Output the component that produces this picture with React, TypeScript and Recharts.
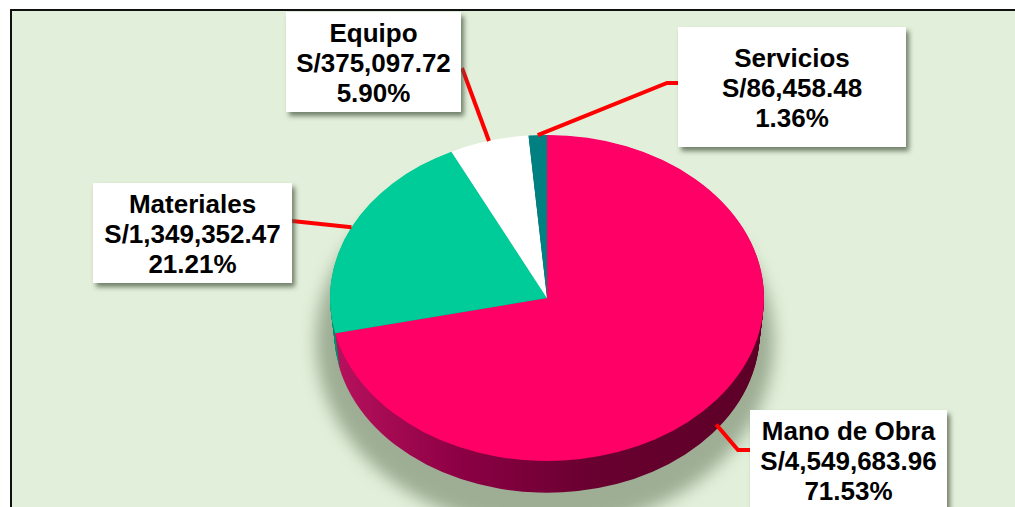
import React from 'react';
import { PieChart, Pie, Cell } from 'recharts';

// ---- data ----
const categories = ['Mano de Obra', 'Materiales', 'Equipo', 'Servicios'];
const amounts = [4549683.96, 1349352.47, 375097.72, 86458.48];
const topColors = ['#FF0066', '#00CC99', '#FFFFFF', '#008080'];
const sideColors = ['url(#pinkSide)', '#008F6B', '#C8C8C8', '#005A5A'];

const data = categories.map((name, i) => ({ name, value: amounts[i] }));

// ---- layout (screen px) ----
const W = 1015;
const H = 507;
const CX = 547;
const CY = 298;
const RX = 217;
const RY = 163;
const DEPTH = 35;
const BOTTOM_SHRINK = 0.02;
const K = RY / RX;
const STEP = 1.5;
const CHART_H = 720;
const layerOffsets: number[] = [];
for (let off = DEPTH; off > 0; off -= STEP) layerOffsets.push(off);

// label boxes [x, y, w, h] and leader path points (after the slice anchor)
const labelLayout = [
  { box: [750, 410, 197, 100], path: [[738, 450], [750, 450]] },
  { box: [93, 183, 199, 100], path: [[292, 221]] },
  { box: [286, 12, 175, 100], path: [[462, 68]] },
  { box: [678, 27, 228, 120], path: [[667, 83], [678, 83]] },
];

const fmt = (v: number) =>
  'S/' + v.toLocaleString('en-US', { minimumFractionDigits: 2, maximumFractionDigits: 2 });

const renderLabel = (props: any) => {
  const { cx, cy, midAngle, outerRadius, index, name, value, percent } = props;
  const L = labelLayout[index];
  const rad = (Math.PI / 180) * midAngle;
  const s = Math.sin(rad);
  const ax = cx + outerRadius * Math.cos(rad);
  let ay = cy - outerRadius * K * s;
  if (s < 0) ay += DEPTH * 0.7;
  const pts = [[ax, ay], ...L.path];
  const d = pts.map((p, i) => (i === 0 ? 'M' : 'L') + p[0] + ',' + p[1]).join(' ');
  const [bx, by, bw, bh] = L.box;
  const mx = bx + bw / 2;
  const my = by + bh / 2 + 1;
  const tp = {
    x: mx,
    textAnchor: 'middle' as const,
    fontSize: 26,
    fontWeight: 700,
    fontFamily: '"Liberation Sans", Arial, sans-serif',
    fill: '#000',
  };
  return (
    <g key={'lbl' + index}>
      <path d={d} stroke="#FF0000" strokeWidth={4} fill="none" strokeLinejoin="miter" />
      <rect x={bx} y={by} width={bw} height={bh} fill="#FFFFFF" filter="url(#boxShadow)" />
      <text {...tp} y={my - 30 + 9}>{name}</text>
      <text {...tp} y={my + 9}>{fmt(value)}</text>
      <text {...tp} y={my + 30 + 9}>{(percent * 100).toFixed(2) + '%'}</text>
    </g>
  );
};

export default function App() {
  return (
    <div
      style={{
        position: 'fixed',
        left: 0,
        top: 0,
        width: W,
        height: H,
        overflow: 'hidden',
        background: '#FFFFFF',
      }}
    >
      <div
        style={{
          position: 'absolute',
          left: 10,
          top: 9,
          width: 1040,
          height: 540,
          border: '2px solid #111',
          background: '#E2EFDA',
        }}
      />
      {/* soft shadow under pie */}
      <div
        style={{
          position: 'absolute',
          left: CX - RX - 14,
          top: CY - RY + 20,
          width: (RX + 12) * 2,
          height: (RY + 24) * 2,
          borderRadius: '50%',
          background: 'rgba(90,110,80,0.5)',
          filter: 'blur(8px)',
        }}
      />
      {/* pie body, squashed to an ellipse */}
      <div
        style={{
          position: 'absolute',
          left: 0,
          top: 0,
          width: W,
          height: CHART_H,
          transform: `scaleY(${K})`,
          transformOrigin: '0 0',
        }}
      >
        <PieChart width={W} height={CHART_H} margin={{ top: 0, right: 0, bottom: 0, left: 0 }}>
          <defs>
            <linearGradient id="pinkSide" gradientUnits="userSpaceOnUse" x1={CX - RX} y1="0" x2={CX + RX} y2="0">
              <stop offset="0" stopColor="#B8125E" />
              <stop offset="0.3" stopColor="#8C0044" />
              <stop offset="0.6" stopColor="#690030" />
              <stop offset="1" stopColor="#5C0026" />
            </linearGradient>
          </defs>
          {layerOffsets.map((off) => (
            <Pie
              key={'side' + off}
              data={data}
              dataKey="value"
              nameKey="name"
              cx={CX}
              cy={(CY + off) / K}
              outerRadius={RX * (1 - (BOTTOM_SHRINK * off) / DEPTH)}
              startAngle={90}
              endAngle={-270}
              stroke="none"
              isAnimationActive={false}
              labelLine={false}
            >
              {data.map((_, i) => (
                <Cell key={i} fill={sideColors[i]} stroke="none" />
              ))}
            </Pie>
          ))}
          <Pie
            data={data}
            dataKey="value"
            nameKey="name"
            cx={CX}
            cy={CY / K}
            outerRadius={RX}
            startAngle={90}
            endAngle={-270}
            stroke="none"
            isAnimationActive={false}
            labelLine={false}
          >
            {data.map((_, i) => (
              <Cell key={i} fill={topColors[i]} stroke="none" />
            ))}
          </Pie>
        </PieChart>
      </div>
      {/* labels and leader lines */}
      <div style={{ position: 'absolute', left: 0, top: 0, width: W, height: H }}>
        <PieChart width={W} height={H} margin={{ top: 0, right: 0, bottom: 0, left: 0 }}>
          <defs>
            <filter id="boxShadow" x="-20%" y="-20%" width="140%" height="150%">
              <feDropShadow dx="3" dy="4" stdDeviation="2.5" floodColor="#4A5A44" floodOpacity="0.75" />
            </filter>
          </defs>
          <Pie
            data={data}
            dataKey="value"
            nameKey="name"
            cx={CX}
            cy={CY}
            outerRadius={RX}
            startAngle={90}
            endAngle={-270}
            fill="none"
            stroke="none"
            isAnimationActive={false}
            labelLine={false}
            label={renderLabel}
          />
        </PieChart>
      </div>
    </div>
  );
}
